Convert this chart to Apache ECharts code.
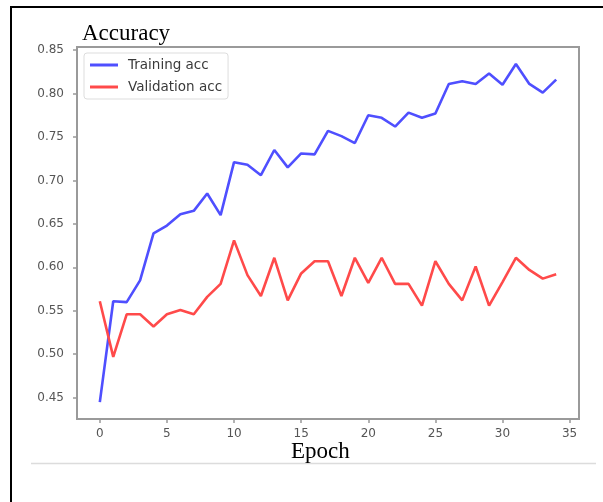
<!DOCTYPE html>
<html>
<head>
<meta charset="utf-8">
<script src="https://cdn.jsdelivr.net/npm/echarts@6/dist/echarts.min.js"></script>
<style>
  html, body { margin: 0; padding: 0; background: #fff; }
  #chart { width: 603px; height: 502px; }
</style>
</head>
<body>
<div id="chart"></div>
<script>
// Training history of the model, one value per epoch
const epochs = [0, 1, 2, 3, 4, 5, 6, 7, 8, 9, 10, 11, 12, 13, 14, 15, 16, 17,
                18, 19, 20, 21, 22, 23, 24, 25, 26, 27, 28, 29, 30, 31, 32, 33, 34];
const trainingAcc = [0.445, 0.561, 0.560, 0.585, 0.639, 0.648, 0.661, 0.665, 0.685, 0.660,
                     0.721, 0.718, 0.706, 0.735, 0.715, 0.731, 0.730, 0.757, 0.751, 0.743,
                     0.775, 0.772, 0.762, 0.778, 0.772, 0.777, 0.811, 0.814, 0.811, 0.823,
                     0.810, 0.834, 0.811, 0.801, 0.816];
const validationAcc = [0.561, 0.497, 0.546, 0.546, 0.532, 0.546, 0.551, 0.546, 0.566, 0.581,
                       0.631, 0.591, 0.567, 0.611, 0.562, 0.593, 0.607, 0.607, 0.567, 0.611,
                       0.582, 0.611, 0.581, 0.581, 0.556, 0.607, 0.581, 0.562, 0.601, 0.556,
                       0.583, 0.611, 0.597, 0.587, 0.592];
const xTicks = [0, 5, 10, 15, 20, 25, 30, 35];
const yTicks = [0.45, 0.50, 0.55, 0.60, 0.65, 0.70, 0.75, 0.80, 0.85];

const pairs = (ys) => ys.map((v, i) => [epochs[i], v]);

const chart = echarts.init(document.getElementById('chart'), null, { renderer: 'canvas' });

const tickFont = { fontFamily: 'DejaVu Sans', fontSize: 12, color: '#555' };

chart.setOption({
  animation: false,
  backgroundColor: '#fff',
  title: {
    text: 'Accuracy',
    left: 82,
    top: 22,
    padding: 0,
    textStyle: { fontFamily: 'Liberation Serif', fontSize: 23, fontWeight: 'normal', color: '#000' }
  },
  grid: {
    left: 77, right: 24, top: 47, bottom: 83,
    show: true,
    borderColor: '#9a9a9a',
    borderWidth: 2,
    backgroundColor: '#fff'
  },
  legend: {
    orient: 'vertical',
    left: 84,
    top: 53,
    padding: [4, 6, 4, 6],
    itemGap: 6,
    itemWidth: 28,
    itemHeight: 3,
    icon: 'rect',
    backgroundColor: '#fff',
    borderColor: '#dddddd',
    borderWidth: 1,
    borderRadius: 3,
    textStyle: {
      fontFamily: 'DejaVu Sans', fontSize: 13.5, color: '#3a3a3a',
      lineHeight: 16, padding: [0, 0, 0, 5]
    },
    data: ['Training acc', 'Validation acc']
  },
  xAxis: {
    type: 'value',
    min: -1.7,
    max: 35.7,
    axisLine: { show: false, onZero: false },
    splitLine: { show: false },
    axisTick: { show: true, inside: false, length: 4, customValues: xTicks, lineStyle: { color: '#999', width: 1.5 } },
    axisLabel: Object.assign({ margin: 9, customValues: xTicks, formatter: (v) => String(v) }, tickFont)
  },
  yAxis: {
    type: 'value',
    min: 0.4255,
    max: 0.8535,
    axisLine: { show: false, onZero: false },
    splitLine: { show: false },
    axisTick: { show: true, inside: false, length: 4, customValues: yTicks, lineStyle: { color: '#999', width: 1.5 } },
    axisLabel: Object.assign({ margin: 13, customValues: yTicks, formatter: (v) => v.toFixed(2) }, tickFont)
  },
  series: [
    {
      name: 'Training acc',
      type: 'line',
      data: pairs(trainingAcc),
      symbol: 'none',
      itemStyle: { color: '#4f4fff' },
      lineStyle: { color: '#4f4fff', width: 2.6 }
    },
    {
      name: 'Validation acc',
      type: 'line',
      data: pairs(validationAcc),
      symbol: 'none',
      itemStyle: { color: '#ff4a4a' },
      lineStyle: { color: '#ff4a4a', width: 2.6 }
    }
  ],
  graphic: [
    // page frame: top and left rules
    { type: 'line', shape: { x1: 10, y1: 7, x2: 603, y2: 7 }, style: { stroke: '#000', lineWidth: 2 }, silent: true },
    { type: 'line', shape: { x1: 11, y1: 6, x2: 11, y2: 502 }, style: { stroke: '#000', lineWidth: 2 }, silent: true },
    // thin rule under the axis caption
    { type: 'line', shape: { x1: 31, y1: 463.5, x2: 596, y2: 463.5 }, style: { stroke: '#dcdcdc', lineWidth: 1.5 }, silent: true },
    {
      type: 'text',
      left: 291,
      top: 440,
      style: { text: 'Epoch', fontFamily: 'Liberation Serif', fontSize: 23, fill: '#000' },
      silent: true
    }
  ]
});
</script>
</body>
</html>
